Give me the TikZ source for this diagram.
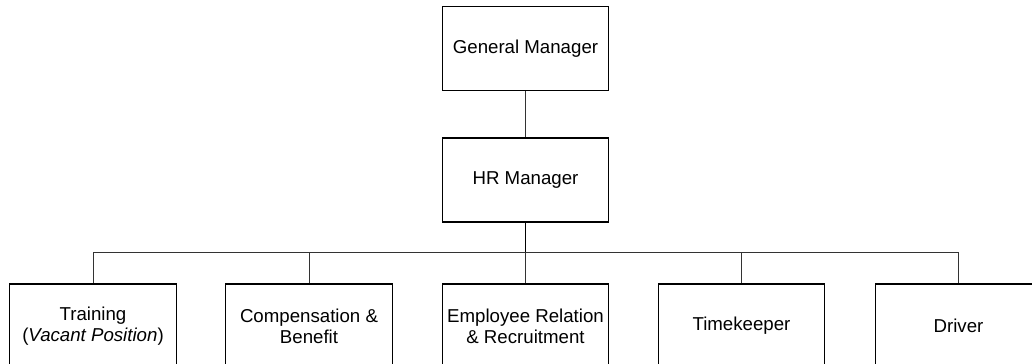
\documentclass[tikz,border=0pt]{standalone}
\usepackage{fontspec}
\setmainfont{Liberation Sans}
\tikzset{
    post/.style={draw, line width=0.9pt, minimum width=125pt, minimum height=63pt, align=center, inner sep=2pt, font=\fontsize{14}{16}\selectfont},
    link/.style={draw, line width=0.6pt, black!80}
}
\begin{document}
\begin{tikzpicture}[x=0.75pt,y=-0.75pt]
    \useasboundingbox (0,0) rectangle (1032,364);
    \clip (0,0) rectangle (1032,364);
    %top of the chart
    \node[post] (gm) at (525.5,48.5) {General Manager};
    \node[post] (hr) at (525.5,180) {HR Manager};
    %staff under the HR manager
    \node[post] (train) at (93,326) {Training\\(\textit{Vacant Position})};
    \node[post] (comp) at (309,326) {Compensation \&\\Benefit};
    \node[post] (emp) at (525.5,326) {Employee Relation\\\& Recruitment};
    \node[post] (time) at (741.5,326) {Timekeeper};
    \node[post] (drv) at (958.5,326) {Driver};
    %draw lines
    \coordinate (bar) at (525.5,252);
    \draw[link] (gm) -- (hr);
    \draw[link, black, line width=0.9pt] (hr) -- (bar);
    \foreach \n in {train,comp,emp,time,drv}
        {%
            \draw[link] (bar) -| (\n.north);
        }
\end{tikzpicture}
\end{document}
